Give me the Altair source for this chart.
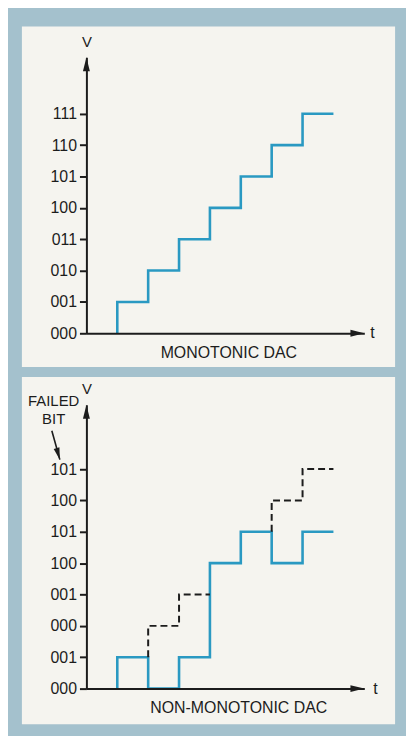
import json
import altair as alt
import pandas as pd

# ---------------- data ----------------
# Monotonic DAC output (staircase, one code step per clock)
mono_t = [1, 1, 2, 3, 4, 5, 6, 7, 8]
mono_v = [0, 1, 2, 3, 4, 5, 6, 7, 7]
mono_labels = ["000", "001", "010", "011", "100", "101", "110", "111"]

# Non-monotonic DAC output (solid) and the expected codes (dashed)
nonmono_t = [1, 1, 2, 3, 4, 5, 6, 7, 8]
nonmono_v = [0, 1, 0, 1, 4, 5, 4, 5, 5]
ideal_seg = [1, 1, 1, 2, 2, 2]
ideal_t = [2, 3, 4, 6, 7, 8]
ideal_v = [1, 2, 3, 5, 6, 7]
nonmono_labels = ["000", "001", "000", "001", "100", "101", "100", "101"]

# annotation anchor points (data units of the lower panel)
failed_text = [{"t": -1.06, "v": 9.18, "txt": "FAILED"}, {"t": -1.06, "v": 8.58, "txt": "BIT"}]
failed_arrow_t = [-1.12, -1.0, -0.86]
failed_arrow_v = [8.22, 7.8, 7.3]

# ---------------- styles ----------------
FRAME = "#a4c1cd"
PANEL = "#f5f4ef"
BLUE = "#2a99c2"
INK = "#1c1c1c"
FONT = "Liberation Sans, Arial, Helvetica, sans-serif"
UP = "M0,0L-0.5,2L0.5,2Z"
RIGHT = "M0,0L-2,-0.5L-2,0.5Z"
DOWN = "M0,0L-0.5,-2L0.5,-2Z"


def panel(step_t, step_v, labels, ymax, title, title_x, t_dx, rect_y, rect_y2,
          dashed=None, extras=()):
    xs = alt.Scale(domain=[0, 9], nice=False, zero=False)
    ys = alt.Scale(domain=[0, ymax], nice=False, zero=False)
    label_expr = json.dumps(labels) + "[datum.value]"

    bg = alt.Chart(alt.Data(values=[{}])).mark_rect(color=PANEL).encode(
        x=alt.value(-65), x2=alt.value(311),
        y=alt.value(rect_y), y2=alt.value(rect_y2))

    df = pd.DataFrame({"t": step_t, "v": step_v, "i": range(len(step_t))})
    step = alt.Chart(df).mark_line(
        color=BLUE, strokeWidth=2.6, interpolate="step-after", strokeJoin="miter"
    ).encode(
        x=alt.X("t:Q", scale=xs, axis=alt.Axis(
            title=title, titleX=title_x, titleY=19, titleAlign="center",
            titleBaseline="middle", titleFont=FONT, titleFontSize=16,
            titleFontWeight="normal", titleColor=INK,
            labels=False, ticks=False, grid=False, domain=True,
            domainColor=INK, domainWidth=2, zindex=1)),
        y=alt.Y("v:Q", scale=ys, axis=alt.Axis(
            values=list(range(len(labels))), tickCount=len(labels),
            labelExpr=label_expr, labelOverlap=False,
            title="V", titleAngle=0, titleX=0, titleY=-8, titleAlign="center",
            titleBaseline="bottom", titleFont=FONT, titleFontSize=15,
            titleFontWeight="normal", titleColor=INK,
            labelFont=FONT, labelFontSize=16, labelColor=INK, labelPadding=3,
            tickSize=7, tickWidth=2, tickColor=INK, grid=False,
            domainColor=INK, domainWidth=2, zindex=1)),
        order="i:Q",
    )

    arrows = alt.Chart(pd.DataFrame({
        "t": [0, 9], "v": [ymax, 0], "shape": [UP, RIGHT]
    })).mark_point(filled=True, size=196, opacity=1, color=INK).encode(
        x=alt.X("t:Q", scale=xs), y=alt.Y("v:Q", scale=ys),
        shape=alt.Shape("shape:N", scale=None))

    tlabel = alt.Chart(pd.DataFrame({"t": [9], "v": [0], "s": ["t"]})).mark_text(
        align="left", baseline="middle", dx=t_dx, font=FONT, fontSize=16, color=INK
    ).encode(x=alt.X("t:Q", scale=xs), y=alt.Y("v:Q", scale=ys), text="s:N")

    layers = [bg, step]
    if dashed is not None:
        dd = pd.DataFrame(dashed)
        layers.append(alt.Chart(dd).mark_line(
            color=INK, strokeWidth=2, strokeDash=[7, 4], interpolate="step-before"
        ).encode(x=alt.X("t:Q", scale=xs), y=alt.Y("v:Q", scale=ys),
                 detail="seg:N", order="t:Q"))
    layers += [arrows, tlabel] + list(extras)
    return alt.layer(*layers).properties(width=280, height=int(round(ymax * 31.6)))


# lower-panel annotation "FAILED BIT" with arrow
ann_text = alt.Chart(pd.DataFrame(failed_text)).mark_text(
    align="center", baseline="middle", font=FONT, fontSize=15, color=INK
).encode(x=alt.X("t:Q"), y=alt.Y("v:Q"), text="txt:N")
ann_line = alt.Chart(pd.DataFrame({
    "t": failed_arrow_t, "v": failed_arrow_v, "i": [0, 1, 2]
})).mark_line(color=INK, strokeWidth=1.6, interpolate="monotone").encode(
    x="t:Q", y="v:Q", order="i:Q")
ann_head = alt.Chart(pd.DataFrame({
    "t": [failed_arrow_t[-1]], "v": [failed_arrow_v[-1]], "shape": [DOWN]
})).mark_point(filled=True, size=144, opacity=1, color=INK, angle=344).encode(
    x="t:Q", y="v:Q", shape=alt.Shape("shape:N", scale=None))

top = panel(mono_t, mono_v, mono_labels, 8.8, "MONOTONIC DAC", 143, 6, -31, 312)
bottom = panel(nonmono_t, nonmono_v, nonmono_labels, 9.05, "NON-MONOTONIC DAC", 153, 9,
               -28, 322,
               dashed={"t": ideal_t, "v": ideal_v, "seg": ideal_seg},
               extras=(ann_text, ann_line, ann_head))

chart = alt.vconcat(top, bottom, spacing=72, bounds="flush").properties(
    padding={"left": 14, "top": 16, "right": 11, "bottom": 9}
).configure(background=FRAME).configure_view(strokeWidth=0)

chart.save("out.html", embed_options={"renderer": "svg", "actions": False})
